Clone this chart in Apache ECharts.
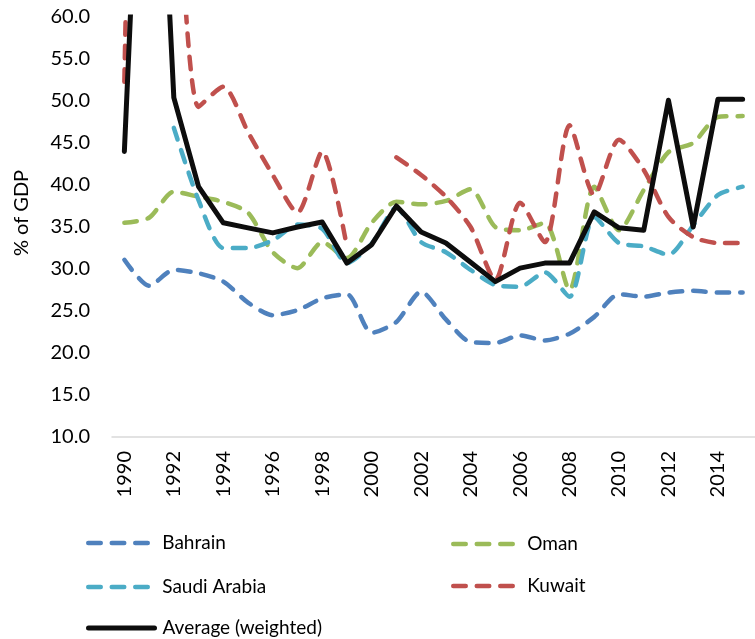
<!DOCTYPE html>
<html>
<head>
<meta charset="utf-8">
<script src="https://cdn.jsdelivr.net/npm/echarts@6/dist/echarts.min.js"></script>
<style>
    html, body { margin: 0; padding: 0; background: #fff; }
    #chart { width: 755px; height: 639px; }
</style>
</head>
<body>
<div id="chart"></div>
<script>
// Excel-like palette
const COLORS = {
    bahrain: '#4f81bd',
    oman: '#9bbb59',
    saudi: '#4bacc6',
    kuwait: '#c0504d',
    average: '#0d0d0d',
    axis: '#d9d9d9',
    text: '#000000'
};

const FONT = 'Lato';

// Years on the x axis
const years = ['1990', '1991', '1992', '1993', '1994', '1995', '1996', '1997', '1998', '1999',
    '2000', '2001', '2002', '2003', '2004', '2005', '2006', '2007', '2008', '2009',
    '2010', '2011', '2012', '2013', '2014', '2015'];

// % of GDP per country
const bahrain = [31.1, 28.0, 29.9, 29.5, 28.5, 26.0, 24.5, 25.1, 26.5, 27.0, 22.4, 23.7, 27.3,
    24.0, 21.3, 21.2, 22.1, 21.5, 22.3, 24.3, 27.0, 26.7, 27.2, 27.4, 27.2, 27.2];
const oman = [35.5, 36.1, 39.2, 38.6, 38.0, 36.7, 32.0, 30.1, 33.2, 31.3, 35.5, 38.0, 37.7,
    38.1, 39.5, 35.0, 34.6, 35.5, 27.5, 39.8, 34.6, 39.4, 43.9, 45.0, 48.1, 48.2];
const saudiArabia = [null, null, 46.8, 38.2, 32.5, 32.5, 33.4, 35.3, 34.8, 30.7, 33.0, 37.3, 33.2,
    32.0, 29.9, 28.1, 27.9, 29.6, 26.7, 36.2, 33.1, 32.7, 31.7, 35.2, 38.8, 39.8];
const kuwait = [52.3, 160, 88, 49.3, 51.7, 46.3, 41.2, 36.7, 44.0, 32.6, null, 43.3, 41.2,
    38.6, 35.0, 28.7, 37.9, 33.2, 47.1, 38.8, 45.4, 41.8, 36.2, 33.8, 33.1, 33.1];
const average = [44.0, 110, 50.4, 39.8, 35.5, 34.9, 34.3, 35.0, 35.6, 30.7, 32.9, 37.5, 34.4,
    33.1, 30.8, 28.5, 30.1, 30.7, 30.7, 36.8, 34.9, 34.6, 50.1, 35.0, 50.2, 50.2];

// y axis ticks
const yMin = 10;
const yMax = 60;
const yStep = 5;

const DASH = [12.5, 11];

// Dashed series helper
function dashedSeries(name, data, color) {
    return {
        name: name,
        type: 'line',
        data: data,
        symbol: 'none',
        smooth: 0.25,
        connectNulls: false,
        lineStyle: {
            color: color,
            width: 4.5,
            type: DASH,
            cap: 'round'
        },
        itemStyle: { color: color }
    };
}

// One legend block per entry, placed like the Excel layout
function legendItem(name, left, centerY, dashed) {
    return {
        data: [name],
        left: left,
        top: centerY - 11,
        padding: 0,
        itemWidth: 66,
        itemHeight: 10,
        itemStyle: { opacity: 0 },
        lineStyle: {
            width: dashed ? 4.5 : 5,
            type: dashed ? DASH : 'solid',
            cap: 'round'
        },
        textStyle: {
            fontFamily: FONT,
            fontSize: 19,
            color: COLORS.text,
            lineHeight: 22,
            padding: [0, 0, 0, 3]
        }
    };
}

function createChart() {
    const chart = echarts.init(document.getElementById('chart'));

    const option = {
        backgroundColor: '#ffffff',
        animation: false,
        grid: {
            left: 112,
            top: 17,
            bottom: 202,
            width: 654
        },
        legend: [
            legendItem('Bahrain', 86, 543, true),
            legendItem('Oman', 451, 544, true),
            legendItem('Saudi Arabia', 86, 587, true),
            legendItem('Kuwait', 451, 586, true),
            legendItem('Average (weighted)', 86, 628, false)
        ],
        xAxis: {
            type: 'category',
            data: years,
            boundaryGap: true,
            axisLine: { lineStyle: { color: COLORS.axis, width: 1.5 } },
            axisTick: { show: false },
            axisLabel: {
                interval: 1,
                rotate: 90,
                margin: 14,
                fontFamily: FONT,
                fontSize: 20,
                color: COLORS.text
            },
            splitLine: { show: false }
        },
        yAxis: {
            type: 'value',
            min: yMin,
            max: yMax,
            interval: yStep,
            name: '% of GDP',
            nameLocation: 'middle',
            nameGap: 80,
            nameRotate: 90,
            nameTextStyle: {
                fontFamily: FONT,
                fontSize: 20,
                color: COLORS.text,
                padding: [0, 0, 0, 28]
            },
            axisLine: { show: false },
            axisTick: { show: false },
            axisLabel: {
                margin: 22,
                fontFamily: FONT,
                fontSize: 20,
                color: COLORS.text,
                formatter: v => v.toFixed(1)
            },
            splitLine: { show: false }
        },
        series: [
            dashedSeries('Bahrain', bahrain, COLORS.bahrain),
            dashedSeries('Oman', oman, COLORS.oman),
            dashedSeries('Saudi Arabia', saudiArabia, COLORS.saudi),
            dashedSeries('Kuwait', kuwait, COLORS.kuwait),
            {
                name: 'Average (weighted)',
                type: 'line',
                data: average,
                symbol: 'none',
                lineStyle: { color: COLORS.average, width: 5, cap: 'round', join: 'round' },
                itemStyle: { color: COLORS.average }
            }
        ]
    };

    chart.setOption(option);
    window.addEventListener('resize', () => chart.resize());
}

document.addEventListener('DOMContentLoaded', createChart);
</script>
</body>
</html>
